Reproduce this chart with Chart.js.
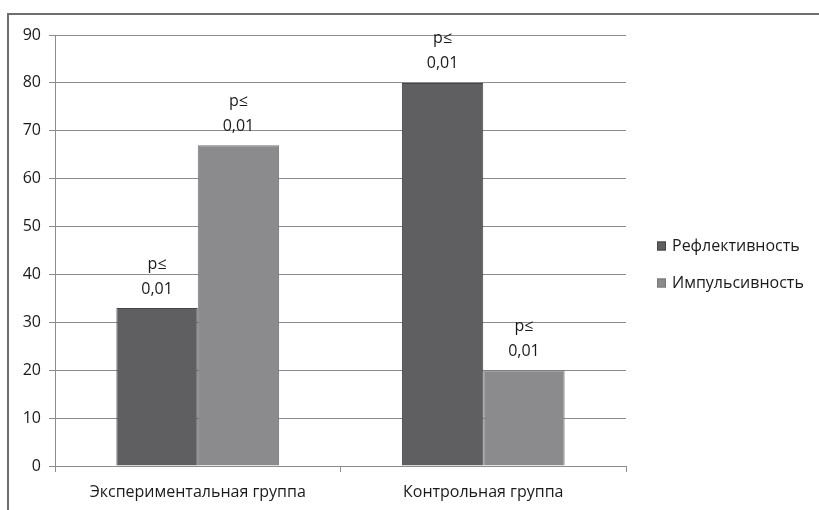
<!DOCTYPE html>
<html>
<head>
<meta charset="utf-8">
<script src="https://cdn.jsdelivr.net/npm/chart.js@4/dist/chart.umd.min.js"></script>
<style>
html,body{margin:0;padding:0;background:#fff;}
#wrap{position:relative;width:819px;height:510px;}
</style>
</head>
<body>
<div id="wrap"><canvas id="c" width="819" height="510"></canvas></div>
<script>
const categories = ['Экспериментальная группа', 'Контрольная группа'];
const seriesNames = ['Рефлективность', 'Импульсивность'];
const reflective = [33, 80];
const impulsive = [67, 20];
const pLabelsReflective = [['p≤', '0,01'], ['p≤', '0,01']];
const pLabelsImpulsive = [['p≤', '0,01'], ['p≤', '0,01']];
const yTicks = [0, 10, 20, 30, 40, 50, 60, 70, 80, 90];

const FONT = '"Open Sans", "DejaVu Sans", sans-serif';
const TEXT = '#1a1a1a';
const GRID = '#8c8c8c';

const framePlugin = {
  id: 'frame',
  beforeDraw(chart) {
    const ctx = chart.ctx;
    ctx.save();
    ctx.fillStyle = '#fff';
    ctx.fillRect(0, 0, chart.width, chart.height);
    ctx.strokeStyle = '#6e6e6e';
    ctx.lineWidth = 2;
    ctx.beginPath();
    ctx.moveTo(8, chart.height);
    ctx.lineTo(8, 14);
    ctx.lineTo(chart.width, 14);
    ctx.stroke();
    ctx.restore();
  }
};

const pLabelPlugin = {
  id: 'plabels',
  afterDatasetsDraw(chart) {
    const ctx = chart.ctx;
    ctx.save();
    ctx.font = '16px ' + FONT;
    ctx.fillStyle = TEXT;
    ctx.textAlign = 'center';
    ctx.textBaseline = 'middle';
    chart.data.datasets.forEach((ds, di) => {
      const meta = chart.getDatasetMeta(di);
      meta.data.forEach((bar, i) => {
        const lines = ds.pLabels[i];
        ctx.fillText(lines[0], bar.x, bar.y - 44);
        ctx.fillText(lines[1], bar.x, bar.y - 19);
      });
    });
    ctx.restore();
  }
};

const legendPlugin = {
  id: 'customLegend',
  afterDraw(chart) {
    const ctx = chart.ctx;
    ctx.save();
    ctx.font = '16px ' + FONT;
    ctx.textAlign = 'left';
    ctx.textBaseline = 'middle';
    const x0 = 657, ys = [246, 283];
    chart.data.datasets.forEach((ds, i) => {
      ctx.fillStyle = ds.backgroundColor;
      ctx.fillRect(x0, ys[i] - 4.5, 9, 9);
      ctx.strokeStyle = ds.borderColor;
      ctx.lineWidth = 1;
      ctx.strokeRect(x0 + 0.5, ys[i] - 4, 8, 8);
      ctx.fillStyle = TEXT;
      ctx.fillText(ds.label, x0 + 15, ys[i]);
    });
    ctx.restore();
  }
};

new Chart(document.getElementById('c'), {
  type: 'bar',
  data: {
    labels: categories,
    datasets: [
      { label: seriesNames[0], data: reflective, pLabels: pLabelsReflective,
        backgroundColor: '#5f5f61', borderColor: '#454545', borderWidth: 1,
        categoryPercentage: 0.57, barPercentage: 1.0 },
      { label: seriesNames[1], data: impulsive, pLabels: pLabelsImpulsive,
        backgroundColor: '#8b8b8e', borderColor: '#767678', borderWidth: 1,
        categoryPercentage: 0.57, barPercentage: 1.0 }
    ]
  },
  options: {
    responsive: false,
    animation: false,
    devicePixelRatio: 1,
    layout: { padding: { left: 0, top: 35, right: 193, bottom: 0 } },
    plugins: { legend: { display: false }, tooltip: { enabled: false } },
    scales: {
      x: {
        offset: true,
        grid: { display: true, drawOnChartArea: false, drawTicks: true, tickLength: 6, color: GRID, offset: true },
        border: { display: true, color: GRID, width: 1 },
        ticks: { color: TEXT, font: { family: FONT, size: 16 }, padding: 11, maxRotation: 0 },
        afterFit(s) { s.height = 44; }
      },
      y: {
        min: 0, max: 90,
        afterBuildTicks(s) { s.ticks = yTicks.map(v => ({ value: v })); },
        grid: { color: GRID, tickLength: 6, drawTicks: true },
        border: { display: true, color: GRID, width: 1 },
        ticks: { color: TEXT, font: { family: FONT, size: 16 }, padding: 8 },
        afterFit(s) { s.width = 55; }
      }
    }
  },
  plugins: [framePlugin, pLabelPlugin, legendPlugin]
});
</script>
</body>
</html>
